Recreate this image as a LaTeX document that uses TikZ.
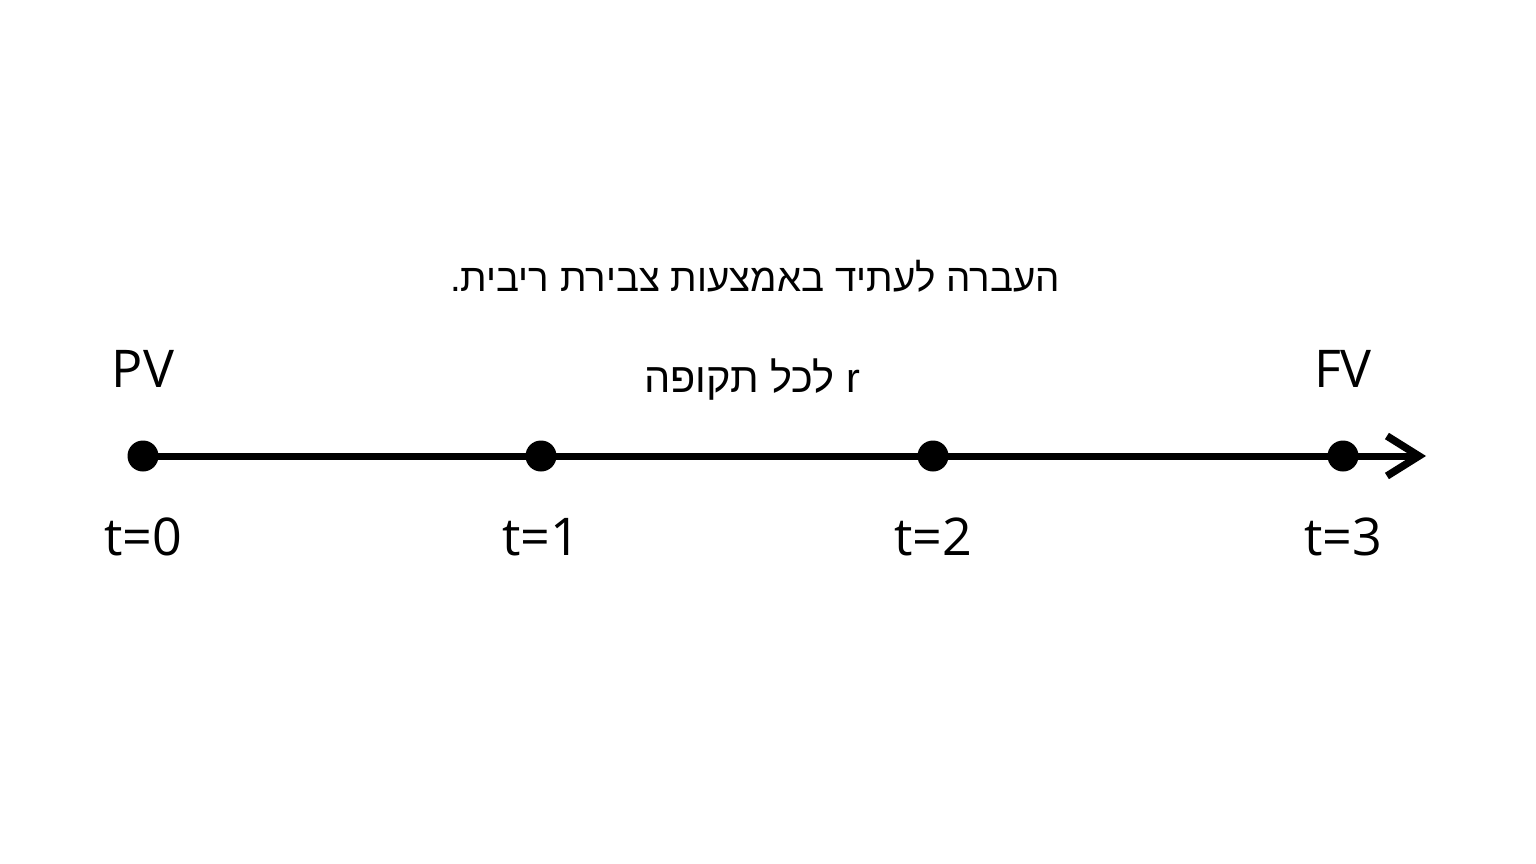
\documentclass[tikz,border=0pt]{standalone}
\usepackage{fontspec}
\setmainfont{Open Sans}
\newfontfamily\hebfont[Script=Hebrew]{Liberation Sans}
\TeXXeTstate=1
\usetikzlibrary{arrows.meta}
\tikzset{
  dot/.style={circle,fill=black,inner sep=0pt,minimum size=31pt},
  ticklabel/.style={font=\fontsize{52}{60}\selectfont,inner sep=0pt},
  toplabel/.style={font=\fontsize{52}{60}\selectfont,inner sep=0pt},
  hebtext/.style={font=\hebfont\fontsize{38.5}{44}\selectfont,inner sep=0pt},
  ratetext/.style={font=\hebfont\fontsize{41.5}{48}\selectfont,inner sep=0pt},
  axis/.style={line width=7pt,-{Straight Barb[length=32pt,width=40pt,line width=7.5pt]}}
}
\begin{document}
\begin{tikzpicture}[x=1pt,y=-1pt]
\useasboundingbox[fill=white] (0,0) rectangle (1536,864);
\node[dot] (d0) at (143,456) {};
\node[dot] (d1) at (541,456) {};
\node[dot] (d2) at (933,456) {};
\node[dot] (d3) at (1343,456) {};
\coordinate (end) at (1426,456);
\draw[axis] (d0.center) -- (end);
\node[ticklabel] (l0) at (143,537) {t=0};
\node[ticklabel] (l1) at (541,537) {t=1};
\node[ticklabel] (l2) at (933,537) {t=2};
\node[ticklabel] (l3) at (1343,537) {t=3};
\node[toplabel] (pv) at (143,369) {PV};
\node[toplabel] (fv) at (1343,369) {FV};
\node[hebtext] (title) at (755,276) {\beginR העברה לעתיד באמצעות צבירת ריבית.\endR};
\node[ratetext] (rate) at (752,380) {\beginR \beginL r\endL{} לכל תקופה\endR};
\end{tikzpicture}
\end{document}
